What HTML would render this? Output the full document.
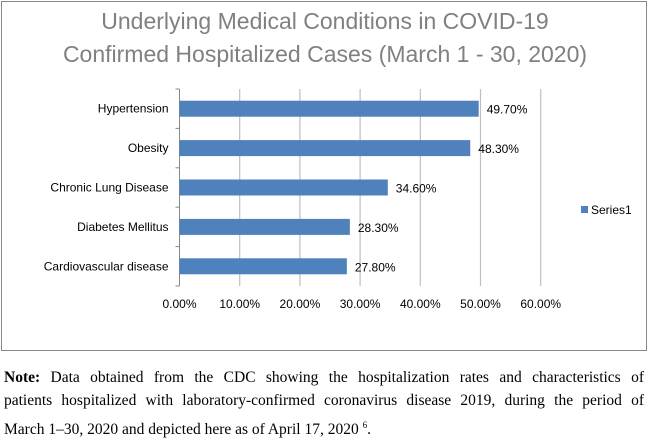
<!DOCTYPE html>
<html><head><meta charset="utf-8"><style>
body{margin:0;width:650px;height:441px;background:#fff;overflow:hidden;font-family:"Liberation Sans",sans-serif}
#box{position:absolute;left:1px;top:1px;width:646px;height:350px;border:1px solid #888;box-sizing:border-box}
.note{position:absolute;left:4px;width:640px;font-family:"Liberation Serif",serif;font-size:15.5px;line-height:18px;color:#000;text-align:justify;text-align-last:justify;white-space:nowrap}
</style></head><body>
<div id="box"></div>
<svg id="chart" width="650" height="360" style="position:absolute;left:0;top:0">
<text x="325" y="29" text-anchor="middle" font-size="23" fill="#808080">Underlying Medical Conditions in COVID-19</text>
<text x="325" y="62" text-anchor="middle" font-size="23" fill="#808080">Confirmed Hospitalized Cases (March 1 - 30, 2020)</text>
<g id="grid"></g><g id="bars"></g>
<rect x="581" y="206" width="7" height="7" fill="#4f81bd"/>
<text x="591" y="214" font-size="12" fill="#000">Series1</text>
</svg>
<div class="note" style="top:369px"><b>Note:</b> Data obtained from the CDC showing the hospitalization rates and characteristics of</div>
<div class="note" style="top:392px">patients hospitalized with laboratory-confirmed coronavirus disease 2019, during the period of</div>
<div class="note" style="top:416px;text-align-last:auto">March 1–30, 2020 and depicted here as of April 17, 2020 <sup style="font-size:9px">6</sup>.</div>
<script>
const categories=["Hypertension","Obesity","Chronic Lung Disease","Diabetes Mellitus","Cardiovascular disease"];
const values=[49.7,48.3,34.6,28.3,27.8];
const ticks=[0,10,20,30,40,50,60];
const X0=179.5,X1=540.7,Y0=89,Y1=286,NS="http://www.w3.org/2000/svg";
const xs=v=>X0+(v/60)*(X1-X0);
const band=(Y1-Y0)/categories.length;
function mk(t,a,p){const e=document.createElementNS(NS,t);for(const k in a)e.setAttribute(k,a[k]);p.appendChild(e);return e;}
const g=document.getElementById('grid'),b=document.getElementById('bars');
ticks.forEach(t=>{
 if(t>0){const l=mk('line',{x1:xs(t),x2:xs(t),y1:Y0,y2:Y1,stroke:'#bfbfbf','stroke-width':1.2},g);
 
 }
 const tx=mk('text',{x:xs(t),y:308,'text-anchor':'middle','font-size':12,fill:'#000'},g);tx.textContent=t.toFixed(2)+'%';
 
 
});
const ax=mk('line',{x1:X0,x2:X0,y1:Y0,y2:Y1,stroke:'#888'},g);


for(let i=0;i<=categories.length;i++){mk('line',{x1:X0-4,x2:X0,y1:Y0+i*band,y2:Y0+i*band,stroke:'#888'},g);}
categories.forEach((c,i)=>{
 const cy=Y0+band*(i+0.5);
 const r=mk('rect',{x:X0,y:cy-8,width:xs(values[i])-X0,height:16,fill:'#4f81bd'},b);
 
 
 const lb=mk('text',{x:X0-11,y:cy+4,'text-anchor':'end','font-size':12,fill:'#000'},b);lb.textContent=c;
 
 
 const v=mk('text',{x:xs(values[i])+8,y:cy+5,'font-size':12,fill:'#000'},b);v.textContent=values[i].toFixed(2)+'%';
 
 
});
</script>
</body></html>
